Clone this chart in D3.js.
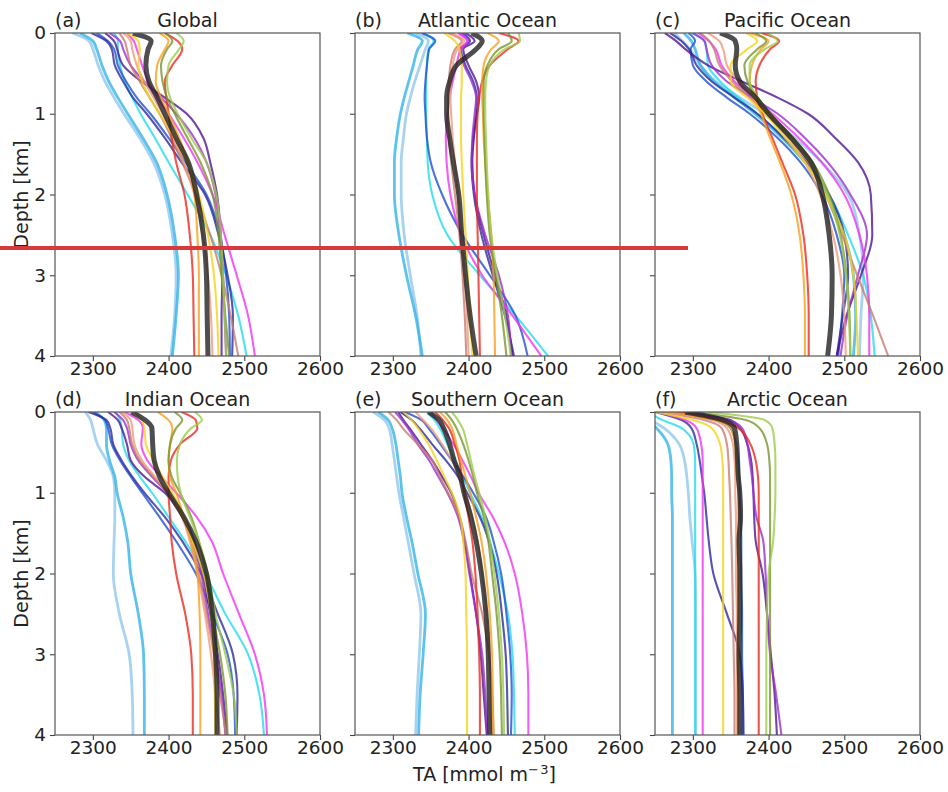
<!DOCTYPE html>
<html>
<head>
<meta charset="utf-8">
<script src="https://cdn.jsdelivr.net/npm/d3@7"></script>
<style>
  body { margin: 0; background: #fff; }
  svg { display: block; }
  text { font-family: "DejaVu Sans", sans-serif; fill: #222; }
</style>
</head>
<body>
<svg id="chart" width="948" height="792"></svg>
<script>
// Depth levels (km) at which every profile is given
const depthKm = [0, 0.1, 0.2, 0.4, 0.6, 0.8, 1.0, 1.3, 1.6, 2.0, 2.5, 3.0, 3.5, 4.0];

// Model line colours (last entry: observation-based climatology, drawn thick)
const modelColors = [
  "#92c8ec", "#35b4e8", "#20dcec", "#1f50d0", "#2c2a9c", "#4e1590", "#9b2fd0", "#f035f0",
  "#c97c72", "#f09a7a", "#eb2a1e", "#f8a01c", "#f5d21c", "#7a9530", "#9ccc4c", "#222222"
];

const panelLetters = ["(a)", "(b)", "(c)", "(d)", "(e)", "(f)"];
const panelTitles = ["Global", "Atlantic Ocean", "Pacific Ocean", "Indian Ocean", "Southern Ocean", "Arctic Ocean"];
const xTicks = [2300, 2400, 2500, 2600];
const yTicks = [0, 1, 2, 3, 4];

// Total alkalinity profiles (mmol m-3), one row per model, last row = observations
const taGlobal = [
  [2273, 2295, 2300, 2307, 2316, 2328, 2341, 2362, 2380, 2395, 2405, 2410, 2408, 2403],
  [2283, 2300, 2305, 2312, 2321, 2333, 2346, 2366, 2384, 2398, 2408, 2413, 2410, 2405],
  [2328, 2333, 2333, 2336, 2342, 2352, 2363, 2382, 2400, 2425, 2455, 2476, 2492, 2503],
  [2305, 2320, 2328, 2333, 2344, 2358, 2376, 2400, 2422, 2450, 2468, 2476, 2480, 2481],
  [2298, 2318, 2325, 2329, 2340, 2353, 2371, 2395, 2417, 2448, 2466, 2478, 2485, 2484],
  [2316, 2328, 2332, 2340, 2364, 2395, 2424, 2446, 2455, 2464, 2469, 2471, 2470, 2470],
  [2322, 2336, 2340, 2350, 2368, 2390, 2410, 2434, 2450, 2462, 2468, 2472, 2474, 2476],
  [2345, 2354, 2358, 2365, 2373, 2385, 2400, 2420, 2438, 2458, 2474, 2490, 2505, 2514],
  [2335, 2342, 2345, 2350, 2362, 2375, 2388, 2404, 2418, 2436, 2455, 2470, 2482, 2492],
  [2340, 2350, 2352, 2358, 2368, 2380, 2392, 2406, 2420, 2434, 2445, 2452, 2456, 2458],
  [2395, 2412, 2418, 2405, 2395, 2397, 2400, 2404, 2410, 2421, 2428, 2432, 2433, 2434],
  [2388, 2400, 2395, 2385, 2383, 2390, 2400, 2414, 2426, 2434, 2438, 2440, 2440, 2440],
  [2345, 2360, 2362, 2360, 2365, 2375, 2388, 2408, 2425, 2440, 2452, 2460, 2464, 2466],
  [2395, 2405, 2398, 2390, 2392, 2398, 2408, 2425, 2442, 2458, 2466, 2470, 2475, 2480],
  [2410, 2420, 2414, 2400, 2398, 2402, 2412, 2430, 2450, 2463, 2469, 2472, 2474, 2476],
  [2353, 2377, 2373, 2370, 2374, 2385, 2395, 2410, 2426, 2437, 2446, 2450, 2451, 2452]
];

const taAtlantic = [
  [2330, 2347, 2343, 2336, 2329, 2323, 2318, 2314, 2311, 2311, 2315, 2323, 2332, 2337],
  [2319, 2339, 2333, 2327, 2321, 2315, 2310, 2305, 2302, 2302, 2308, 2318, 2330, 2339],
  [2340, 2354, 2347, 2345, 2344, 2344, 2344, 2345, 2346, 2352, 2372, 2415, 2462, 2505],
  [2338, 2356, 2348, 2345, 2343, 2342, 2343, 2345, 2350, 2365, 2392, 2428, 2462, 2478],
  [2392, 2402, 2390, 2396, 2406, 2411, 2410, 2406, 2404, 2407, 2417, 2432, 2448, 2460],
  [2396, 2408, 2393, 2400, 2410, 2414, 2411, 2407, 2405, 2408, 2420, 2435, 2450, 2458],
  [2388, 2400, 2388, 2394, 2404, 2410, 2408, 2405, 2404, 2408, 2422, 2440, 2452, 2456],
  [2386, 2398, 2390, 2384, 2379, 2375, 2372, 2370, 2371, 2376, 2390, 2418, 2458, 2496],
  [2373, 2391, 2382, 2376, 2374, 2373, 2373, 2374, 2377, 2382, 2388, 2392, 2395, 2397],
  [2376, 2394, 2385, 2379, 2377, 2376, 2377, 2379, 2382, 2386, 2391, 2395, 2398, 2400],
  [2440, 2466, 2452, 2428, 2418, 2414, 2412, 2411, 2411, 2411, 2412, 2413, 2414, 2415],
  [2425, 2440, 2430, 2420, 2418, 2418, 2419, 2420, 2422, 2425, 2430, 2433, 2434, 2435],
  [2368, 2382, 2388, 2391, 2391, 2390, 2390, 2390, 2391, 2393, 2396, 2399, 2402, 2405],
  [2452, 2457, 2440, 2425, 2420, 2420, 2420, 2421, 2422, 2424, 2428, 2436, 2444, 2450],
  [2466, 2468, 2448, 2428, 2423, 2422, 2422, 2423, 2424, 2426, 2430, 2438, 2448, 2456],
  [2404, 2418, 2410, 2384, 2375, 2371, 2371, 2375, 2380, 2387, 2391, 2396, 2402, 2410]
];

const taPacific = [
  [2276, 2286, 2296, 2310, 2330, 2362, 2395, 2435, 2470, 2505, 2520, 2525, 2522, 2520],
  [2288, 2298, 2303, 2310, 2328, 2355, 2382, 2418, 2448, 2478, 2500, 2512, 2515, 2512],
  [2298, 2316, 2318, 2320, 2336, 2360, 2385, 2420, 2450, 2480, 2505, 2525, 2535, 2540],
  [2294, 2303, 2297, 2300, 2318, 2345, 2375, 2412, 2442, 2470, 2490, 2500, 2497, 2492],
  [2270, 2285, 2295, 2305, 2325, 2355, 2385, 2420, 2450, 2480, 2500, 2505, 2498, 2490],
  [2263, 2278, 2290, 2320, 2365, 2412, 2452, 2488, 2518, 2535, 2537, 2522, 2503, 2490],
  [2300, 2315, 2318, 2325, 2345, 2378, 2412, 2448, 2478, 2508, 2530, 2518, 2504, 2495],
  [2307, 2321, 2330, 2338, 2355, 2380, 2405, 2440, 2470, 2500, 2520, 2530, 2533, 2533],
  [2310, 2322, 2328, 2335, 2352, 2375, 2398, 2428, 2452, 2475, 2497, 2517, 2538, 2558],
  [2320, 2335, 2340, 2345, 2360, 2380, 2400, 2425, 2448, 2468, 2485, 2495, 2500, 2502],
  [2391, 2414, 2402, 2388, 2383, 2385, 2392, 2405, 2418, 2435, 2446, 2451, 2453, 2453],
  [2375, 2400, 2390, 2378, 2375, 2380, 2390, 2402, 2415, 2430, 2441, 2446, 2448, 2448],
  [2370, 2385, 2372, 2350, 2350, 2372, 2395, 2422, 2448, 2475, 2500, 2512, 2516, 2518],
  [2382, 2397, 2385, 2368, 2372, 2385, 2402, 2432, 2458, 2480, 2495, 2503, 2507, 2508],
  [2398, 2412, 2395, 2375, 2375, 2386, 2402, 2430, 2455, 2478, 2494, 2502, 2506, 2508],
  [2336, 2356, 2358, 2356, 2362, 2383, 2400, 2430, 2456, 2471, 2480, 2484, 2483, 2478]
];

const taIndian = [
  [2290, 2297, 2300, 2306, 2318, 2327, 2329, 2329, 2328, 2327, 2335, 2348, 2352, 2353],
  [2303, 2315, 2318, 2318, 2322, 2329, 2332, 2340, 2346, 2350, 2360, 2367, 2368, 2368],
  [2330, 2336, 2338, 2340, 2348, 2362, 2378, 2400, 2422, 2448, 2475, 2505, 2520, 2526],
  [2300, 2316, 2320, 2325, 2336, 2350, 2365, 2388, 2410, 2436, 2458, 2478, 2486, 2488],
  [2294, 2318, 2323, 2327, 2338, 2352, 2368, 2395, 2418, 2443, 2465, 2485, 2491, 2490],
  [2320, 2333, 2338, 2345, 2350, 2368, 2395, 2420, 2434, 2445, 2455, 2465, 2472, 2477],
  [2328, 2340, 2345, 2350, 2360, 2378, 2398, 2420, 2432, 2443, 2452, 2462, 2470, 2475],
  [2342, 2360, 2366, 2364, 2372, 2390, 2410, 2437, 2457, 2472, 2493, 2514, 2526, 2530],
  [2335, 2345, 2348, 2352, 2362, 2380, 2398, 2418, 2430, 2440, 2450, 2460, 2468, 2476],
  [2338, 2350, 2352, 2355, 2365, 2382, 2400, 2418, 2428, 2438, 2448, 2456, 2462, 2468],
  [2417, 2436, 2438, 2415, 2403, 2400, 2400, 2402, 2404, 2410, 2422, 2430, 2432, 2432],
  [2386, 2400, 2405, 2402, 2400, 2402, 2410, 2420, 2430, 2438, 2441, 2442, 2442, 2442],
  [2355, 2365, 2368, 2370, 2380, 2392, 2405, 2420, 2432, 2446, 2456, 2460, 2461, 2462],
  [2408, 2418, 2410, 2402, 2400, 2404, 2415, 2430, 2440, 2450, 2458, 2468, 2475, 2478],
  [2435, 2444, 2430, 2415, 2411, 2412, 2416, 2428, 2440, 2452, 2462, 2475, 2486, 2490],
  [2351, 2369, 2378, 2379, 2381, 2388, 2400, 2420, 2436, 2450, 2458, 2462, 2464, 2464]
];

const taSouthern = [
  [2274, 2289, 2295, 2299, 2302, 2305, 2308, 2314, 2320, 2328, 2337, 2335, 2332, 2330],
  [2281, 2294, 2299, 2304, 2307, 2310, 2312, 2318, 2325, 2333, 2343, 2340, 2336, 2334],
  [2345, 2355, 2362, 2372, 2382, 2392, 2402, 2417, 2428, 2440, 2452, 2458, 2460, 2461],
  [2316, 2338, 2347, 2363, 2378, 2393, 2406, 2423, 2433, 2443, 2450, 2455, 2457, 2456],
  [2310, 2325, 2335, 2352, 2370, 2386, 2398, 2415, 2427, 2437, 2444, 2449, 2451, 2452],
  [2307, 2314, 2322, 2337, 2352, 2365, 2377, 2388, 2395, 2402, 2410, 2416, 2420, 2424],
  [2303, 2312, 2320, 2333, 2348, 2360, 2372, 2386, 2394, 2401, 2410, 2418, 2422, 2425],
  [2350, 2358, 2366, 2380, 2392, 2403, 2413, 2432, 2447, 2461, 2471, 2477, 2479, 2479],
  [2294, 2305, 2313, 2333, 2352, 2362, 2373, 2388, 2396, 2404, 2418, 2427, 2431, 2433],
  [2330, 2340, 2350, 2365, 2378, 2388, 2396, 2405, 2412, 2418, 2424, 2428, 2430, 2431],
  [2356, 2366, 2374, 2382, 2388, 2391, 2394, 2400, 2405, 2409, 2412, 2414, 2415, 2415],
  [2362, 2372, 2378, 2384, 2390, 2396, 2402, 2410, 2417, 2423, 2428, 2431, 2432, 2433],
  [2314, 2325, 2333, 2347, 2358, 2368, 2378, 2389, 2393, 2396, 2397, 2398, 2398, 2398],
  [2369, 2378, 2384, 2393, 2400, 2406, 2411, 2420, 2426, 2431, 2437, 2441, 2443, 2444],
  [2378, 2386, 2392, 2398, 2403, 2408, 2414, 2422, 2428, 2434, 2440, 2444, 2446, 2447],
  [2347, 2361, 2367, 2375, 2381, 2389, 2394, 2403, 2410, 2417, 2423, 2426, 2427, 2428]
];

const taArctic = [
  [2230, 2245, 2262, 2282, 2289, 2292, 2294, 2296, 2299, 2303, 2304, 2304, 2304, 2304],
  [2230, 2240, 2252, 2267, 2271, 2272, 2272, 2273, 2273, 2273, 2273, 2273, 2273, 2273],
  [2240, 2260, 2285, 2301, 2303, 2303, 2303, 2303, 2303, 2303, 2303, 2303, 2303, 2303],
  [2270, 2330, 2350, 2357, 2360, 2361, 2362, 2363, 2364, 2364, 2365, 2365, 2366, 2366],
  [2250, 2285, 2298, 2305, 2309, 2312, 2315, 2318, 2321, 2327, 2345, 2362, 2366, 2367],
  [2285, 2350, 2362, 2372, 2377, 2379, 2380, 2381, 2383, 2392, 2398, 2403, 2408, 2411],
  [2280, 2345, 2365, 2372, 2375, 2378, 2380, 2384, 2393, 2396, 2398, 2402, 2410, 2417],
  [2255, 2290, 2305, 2311, 2313, 2313, 2313, 2313, 2313, 2313, 2313, 2313, 2313, 2313],
  [2258, 2315, 2338, 2345, 2347, 2348, 2349, 2350, 2351, 2352, 2353, 2354, 2355, 2355],
  [2265, 2325, 2345, 2353, 2355, 2356, 2356, 2357, 2357, 2357, 2358, 2358, 2358, 2358],
  [2275, 2335, 2360, 2376, 2383, 2386, 2387, 2387, 2387, 2387, 2387, 2387, 2387, 2387],
  [2270, 2330, 2350, 2356, 2358, 2359, 2360, 2360, 2360, 2360, 2360, 2360, 2360, 2360],
  [2250, 2300, 2325, 2336, 2339, 2340, 2340, 2340, 2340, 2340, 2340, 2340, 2340, 2340],
  [2300, 2370, 2388, 2398, 2401, 2402, 2402, 2402, 2402, 2402, 2402, 2402, 2402, 2402],
  [2320, 2395, 2405, 2408, 2409, 2409, 2409, 2408, 2406, 2400, 2398, 2397, 2397, 2397],
  [2290, 2340, 2355, 2358, 2359, 2360, 2362, 2363, 2361, 2362, 2362, 2361, 2362, 2362]
];

const panelData = [taGlobal, taAtlantic, taPacific, taIndian, taSouthern, taArctic];

// ---- layout ----
const svg = d3.select("#chart");
const colLeft = [55, 355, 655];
const rowTop = [33, 412];
const plotW = 265, plotH = 323;
const fs = 18.5;

const x = d3.scaleLinear().domain([2250, 2600]).range([0, plotW]);
const y = d3.scaleLinear().domain([0, 4]).range([0, plotH]);

const line = d3.line()
  .x(d => x(d[1]))
  .y(d => y(d[0]))
  .curve(d3.curveMonotoneY);

const defs = svg.append("defs");

panelData.forEach((rows, i) => {
  const col = i % 3, row = Math.floor(i / 3);
  const g = svg.append("g").attr("transform", `translate(${colLeft[col]},${rowTop[row]})`);

  defs.append("clipPath").attr("id", `clip${i}`)
    .append("rect").attr("width", plotW).attr("height", plotH);

  const lines = g.append("g").attr("clip-path", `url(#clip${i})`);
  rows.forEach((vals, k) => {
    const isObs = k === rows.length - 1;
    lines.append("path")
      .datum(depthKm.map((d, j) => [d, vals[j]]))
      .attr("d", line)
      .attr("fill", "none")
      .attr("stroke", modelColors[k])
      .attr("stroke-opacity", 0.8)
      .attr("stroke-width", isObs ? 5 : (k < 2 ? 2.8 : 2.1))
      .attr("stroke-linejoin", "round");
  });

  // axes
  const xAxis = g.append("g").attr("transform", `translate(0,${plotH})`)
    .call(d3.axisBottom(x).tickValues(xTicks).tickSize(5).tickPadding(1).tickFormat(d3.format("d")));
  const yAxis = g.append("g")
    .call(d3.axisLeft(y).tickValues(yTicks).tickSize(5).tickPadding(4)
      .tickFormat(col === 0 ? d3.format("d") : ""));
  [xAxis, yAxis].forEach(a => {
    a.select(".domain").remove();
    a.selectAll(".tick line").attr("stroke", "#444").attr("stroke-width", 1.1);
    a.selectAll(".tick text").attr("font-size", fs).attr("fill", "#222")
      .attr("font-family", "DejaVu Sans, sans-serif");
  });

  // frame
  g.append("rect").attr("width", plotW).attr("height", plotH)
    .attr("fill", "none").attr("stroke", "#555").attr("stroke-width", 1.2);

  // titles
  g.append("text").attr("x", 0).attr("y", -6).attr("font-size", 19).text(panelLetters[i]);
  g.append("text").attr("x", plotW / 2).attr("y", -6).attr("font-size", 19)
    .attr("text-anchor", "middle").text(panelTitles[i]);
});

// axis labels
rowTop.forEach(t => {
  svg.append("text")
    .attr("transform", `translate(28,${t + plotH / 2}) rotate(-90)`)
    .attr("text-anchor", "middle").attr("font-size", 19)
    .text("Depth [km]");
});

const xl = svg.append("text").attr("x", colLeft[1] + plotW / 2 - 3).attr("y", 781)
  .attr("text-anchor", "middle").attr("font-size", 19);
xl.append("tspan").text("TA [mmol m");
xl.append("tspan").attr("dy", -7).attr("font-size", 13).text("\u2212\u200a3");
xl.append("tspan").attr("dy", 7).text("]");

// horizontal reference marker across the upper row
svg.append("line")
  .attr("x1", 0).attr("x2", 688)
  .attr("y1", 248).attr("y2", 248)
  .attr("stroke", "#d63a3a").attr("stroke-width", 4);
</script>
</body>
</html>
